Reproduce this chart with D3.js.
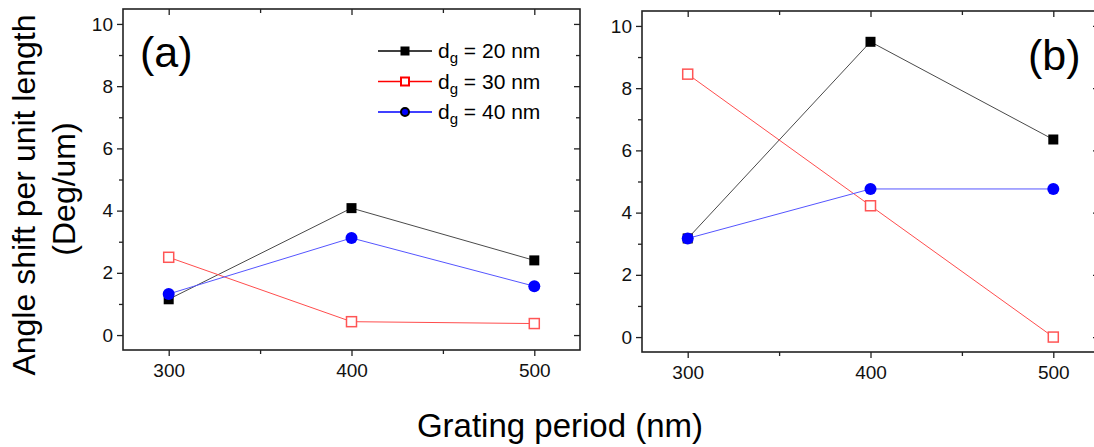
<!DOCTYPE html>
<html>
<head>
<meta charset="utf-8">
<script src="https://cdn.jsdelivr.net/npm/d3@7"></script>
<style>
  body { margin: 0; background: #fff; }
  svg { display: block; font-family: "Liberation Sans", Arial, sans-serif; }
  .tick text { font-size: 19px; fill: #111; font-family: "Liberation Sans", Arial, sans-serif; }
  .tick line { stroke: #222; stroke-width: 1.3px; }
  .domain { stroke: none; }
</style>
</head>
<body>
<svg id="chart" width="1094" height="447"></svg>
<script>
// grating period (nm) on the x axis
const periods = [300, 400, 500];
const xMajorTicks = [300, 400, 500];
const xMinorTicks = [350, 450];
const yMajorTicks = [0, 2, 4, 6, 8, 10];
const yMinorTicks = [1, 3, 5, 7, 9];

// legend labels (gap size d_g, nm)
const gapSizes = ['20', '30', '40'];

// panel (a) angle shift per unit length (Deg/um)
const a_dg20 = [1.15, 4.08, 2.40];
const a_dg30 = [2.50, 0.43, 0.37];
const a_dg40 = [1.32, 3.12, 1.57];

// panel (b)
const b_dg20 = [3.17, 9.49, 6.35];
const b_dg30 = [8.45, 4.22, 0.0];
const b_dg40 = [3.17, 4.76, 4.76];

const svg = d3.select('#chart');

const styles = [
  { line: '#4a4a4a', marker: 'filledSquare', color: '#000' },
  { line: '#ff4d4d', marker: 'openSquare', color: '#ff4d4d' },
  { line: '#5555ff', marker: 'circle', color: '#0000ff' }
];

function drawMarker(g, kind, cx, cy, size, legend) {
  if (kind === 'filledSquare') {
    g.append('rect')
      .attr('x', cx - size / 2).attr('y', cy - size / 2)
      .attr('width', size).attr('height', size)
      .attr('fill', '#000');
  } else if (kind === 'openSquare') {
    g.append('rect')
      .attr('x', cx - size / 2).attr('y', cy - size / 2)
      .attr('width', size).attr('height', size)
      .attr('fill', '#fff')
      .attr('stroke', legend ? '#ff0000' : '#ff5555')
      .attr('stroke-width', legend ? 2 : 1.5);
  } else {
    g.append('circle')
      .attr('cx', cx).attr('cy', cy)
      .attr('r', size / 2)
      .attr('fill', '#0000ff')
      .attr('stroke', legend ? '#000' : 'none')
      .attr('stroke-width', legend ? 2 : 0);
  }
}

function drawPanel(box, series, labelText, labelX, labelY) {
  const x = d3.scaleLinear().domain([275, 525]).range([box.left, box.right]);
  const y = d3.scaleLinear().domain([-0.48, 10.48]).range([box.bottom, box.top]);
  const g = svg.append('g');

  // ticks: left/bottom outward, top/right inward
  g.append('g').attr('transform', `translate(${box.left},0)`)
    .call(d3.axisLeft(y).tickValues(yMajorTicks).tickSize(6).tickPadding(4).tickFormat(d3.format('d')));
  g.append('g').attr('transform', `translate(${box.left},0)`)
    .call(d3.axisLeft(y).tickValues(yMinorTicks).tickSize(4).tickFormat(''));
  g.append('g').attr('transform', `translate(0,${box.bottom})`)
    .call(d3.axisBottom(x).tickValues(xMajorTicks).tickSize(6).tickPadding(8).tickFormat(d3.format('d')));
  g.append('g').attr('transform', `translate(0,${box.bottom})`)
    .call(d3.axisBottom(x).tickValues(xMinorTicks).tickSize(4).tickFormat(''));
  g.append('g').attr('transform', `translate(0,${box.top})`)
    .call(d3.axisTop(x).tickValues(xMajorTicks).tickSize(-6).tickFormat(''));
  g.append('g').attr('transform', `translate(0,${box.top})`)
    .call(d3.axisTop(x).tickValues(xMinorTicks).tickSize(-4).tickFormat(''));
  g.append('g').attr('transform', `translate(${box.right},0)`)
    .call(d3.axisRight(y).tickValues(yMajorTicks).tickSize(-6).tickFormat(''));
  g.append('g').attr('transform', `translate(${box.right},0)`)
    .call(d3.axisRight(y).tickValues(yMinorTicks).tickSize(-4).tickFormat(''));

  g.append('rect')
    .attr('x', box.left).attr('y', box.top)
    .attr('width', box.right - box.left).attr('height', box.bottom - box.top)
    .attr('fill', 'none').attr('stroke', '#222').attr('stroke-width', 1.6);

  const line = d3.line().x((d, i) => x(periods[i])).y(d => y(d));
  series.forEach((vals, k) => {
    g.append('path').datum(vals)
      .attr('d', line)
      .attr('fill', 'none')
      .attr('stroke', styles[k].line)
      .attr('stroke-width', 1);
  });
  series.forEach((vals, k) => {
    vals.forEach((v, i) => {
      drawMarker(g, styles[k].marker, x(periods[i]), y(v), styles[k].marker === 'circle' ? 12 : 10, false);
    });
  });

  g.append('text')
    .attr('x', labelX).attr('y', labelY)
    .attr('font-size', 43).attr('fill', '#000')
    .text(labelText);
}

drawPanel({ left: 123, right: 580, top: 9, bottom: 350 }, [a_dg20, a_dg30, a_dg40], '(a)', 140, 67);
drawPanel({ left: 642, right: 1099, top: 11, bottom: 352 }, [b_dg20, b_dg30, b_dg40], '(b)', 1028, 70);

// legend in panel (a)
const legend = svg.append('g');
gapSizes.forEach((gs, k) => {
  const cy = 51 + k * 30.5;
  legend.append('line')
    .attr('x1', 378).attr('x2', 432).attr('y1', cy).attr('y2', cy)
    .attr('stroke', k === 0 ? '#000' : (k === 1 ? '#ff0000' : '#0000ff'))
    .attr('stroke-width', 1.3);
  drawMarker(legend, styles[k].marker, 405, cy, k === 0 ? 9 : 8, true);
  const t = legend.append('text')
    .attr('x', 438).attr('y', cy + 7)
    .attr('font-size', 21).attr('fill', '#000');
  t.append('tspan').text('d');
  t.append('tspan').attr('font-size', 15).attr('dy', 5).text('g');
  t.append('tspan').attr('dy', -5).text(` = ${gs} nm`);
});

// axis titles
svg.append('text')
  .attr('transform', 'translate(35,195) rotate(-90)')
  .attr('text-anchor', 'middle')
  .attr('font-size', 32).attr('fill', '#000')
  .text('Angle shift per unit length');
svg.append('text')
  .attr('transform', 'translate(75,189) rotate(-90)')
  .attr('text-anchor', 'middle')
  .attr('font-size', 32).attr('fill', '#000')
  .text('(Deg/um)');
svg.append('text')
  .attr('x', 560).attr('y', 437)
  .attr('text-anchor', 'middle')
  .attr('font-size', 33).attr('fill', '#000')
  .text('Grating period (nm)');
</script>
</body>
</html>
